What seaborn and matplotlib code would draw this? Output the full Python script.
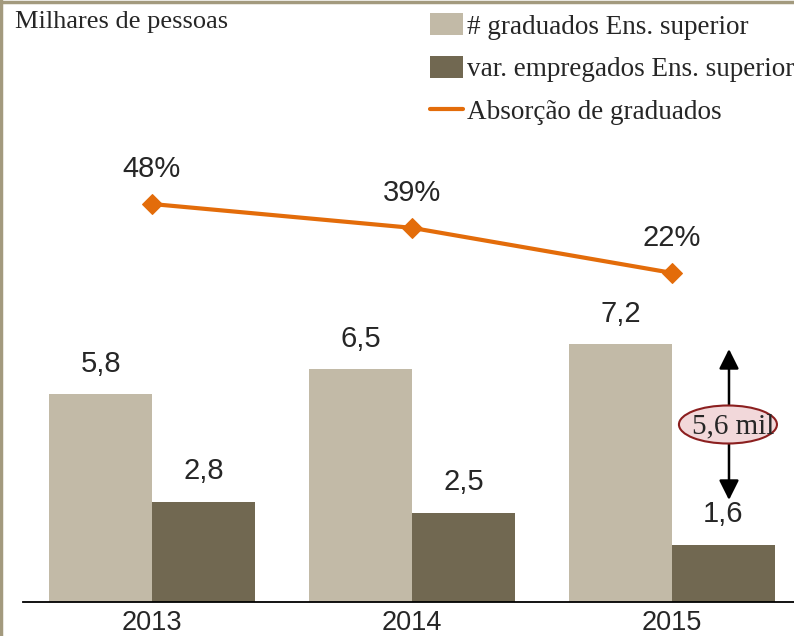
import matplotlib
matplotlib.use("Agg")
import matplotlib.pyplot as plt
import seaborn as sns
import pandas as pd
from matplotlib.patches import Ellipse, Patch
from matplotlib.lines import Line2D

years = ["2013", "2014", "2015"]
graduados = [5.8, 6.5, 7.2]
empregados = [2.8, 2.5, 1.6]
absorcao = [48, 39, 22]
series_names = ["# graduados Ens. superior", "var. empregados Ens. superior"]
line_name = "Absorção de graduados"
annot_text = "5,6 mil"
ylabel_text = "Milhares de pessoas"

LIGHT = "#c2baa7"
DARK = "#716851"
ORANGE = "#e36c0a"
BORDER = "#a39a7e"
SERIF = ["Liberation Serif", "DejaVu Serif"]

df = pd.DataFrame({
    "ano": years * 2,
    "valor": graduados + empregados,
    "serie": [series_names[0]] * 3 + [series_names[1]] * 3,
})

sns.set_style("white")
plt.rcParams["font.family"] = ["Liberation Sans", "DejaVu Sans"]

W, H = 794, 636
fig = plt.figure(figsize=(W / 100, H / 100), dpi=100)
ax = fig.add_axes([23 / W, 1 - 602 / H, (794 - 23) / W, (602 - 40) / H])

sns.barplot(data=df, x="ano", y="valor", hue="serie", palette=[LIGHT, DARK],
            width=0.79, gap=0, saturation=1, ax=ax, legend=False, edgecolor="none")

px_per_unit = 35.8
ax.set_ylim(0, (602 - 40) / px_per_unit)
ax.set_xlim(-0.496, 2.469)

for spine in ["top", "right", "left"]:
    ax.spines[spine].set_visible(False)
ax.spines["bottom"].set_color("black")
ax.spines["bottom"].set_linewidth(1.3)
ax.set_yticks([])
ax.set_xlabel("")
ax.set_ylabel("")
ax.tick_params(axis="x", length=0, pad=6, labelsize=19.5)

for cont in ax.containers:
    ax.bar_label(cont, labels=[f"{v:.1f}".replace(".", ",") for v in cont.datavalues],
                 padding=12, fontsize=21)

ax2 = ax.twinx()
ax2.set_position(ax.get_position())
px_per_pct = 2.65
zero_px = 204 + 48 * px_per_pct
ax2.set_ylim(-(602 - zero_px) / px_per_pct, (zero_px - 40) / px_per_pct)
ax2.set_yticks([])
for spine in ax2.spines.values():
    spine.set_visible(False)
sns.lineplot(x=[0, 1, 2], y=absorcao, ax=ax2, color=ORANGE, lw=3, marker="D",
             markersize=10, markeredgecolor=ORANGE, legend=False)
for i, v in enumerate(absorcao):
    ax2.annotate(f"{v}%", (i, v), xytext=(0, 15), textcoords="offset points",
                 ha="center", va="bottom", fontsize=21)

ax.annotate("", xy=(2.219, (602 - 349) / px_per_unit), xytext=(2.219, (602 - 500) / px_per_unit),
            arrowprops=dict(arrowstyle="<|-|>", color="black", lw=1.8,
                            mutation_scale=30, shrinkA=0, shrinkB=0))
ax.add_patch(Ellipse((2.215, (602 - 424.5) / px_per_unit), 98 / 260, 38 / px_per_unit,
                     facecolor="#f2d8da", edgecolor="#8b1f1f", lw=1.5, zorder=5))
ax.text(2.235, (602 - 426) / px_per_unit, annot_text, ha="center", va="center",
        fontsize=21, family=SERIF, zorder=6)

fig.text(15 / W, 1 - 22 / H, ylabel_text, ha="left", va="center", fontsize=19,
         family=SERIF)

handles = [Patch(facecolor=LIGHT, edgecolor="none"),
           Patch(facecolor=DARK, edgecolor="none"),
           Line2D([0], [0], color=ORANGE, lw=3)]
leg = fig.legend(handles, series_names + [line_name], loc="upper left",
                 bbox_to_anchor=(430 / W, 1 - 13 / H), frameon=False,
                 prop={"family": SERIF, "size": 19.5},
                 handlelength=1.2, handleheight=0.9, handletextpad=0.15,
                 labelspacing=0.6, borderaxespad=0, borderpad=0)

fig.add_artist(Line2D([0, 1], [1 - 1.5 / H, 1 - 1.5 / H], color=BORDER, lw=2.5,
                      transform=fig.transFigure))
fig.add_artist(Line2D([1.2 / W, 1.2 / W], [0, 1], color=BORDER, lw=2.5,
                      transform=fig.transFigure))

fig.savefig("out.png", dpi=100)
